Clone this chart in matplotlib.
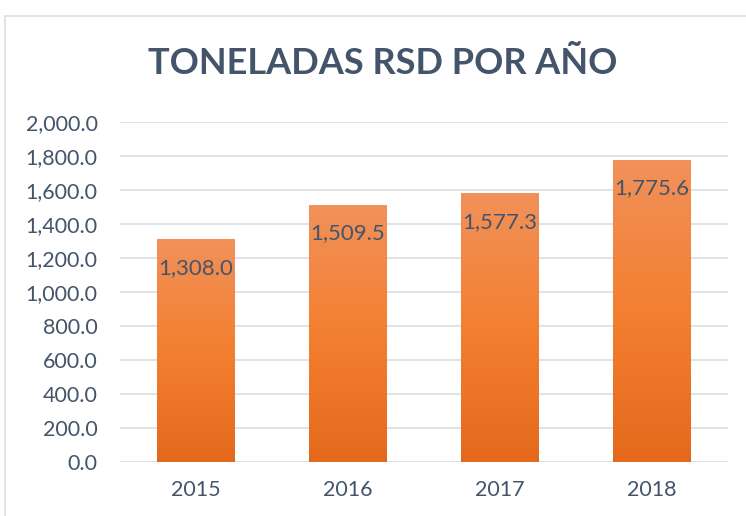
import matplotlib.pyplot as plt
import numpy as np
from matplotlib.colors import LinearSegmentedColormap
from matplotlib.patches import Rectangle

years = ['2015', '2016', '2017', '2018']
tons = [1308.0, 1509.5, 1577.3, 1775.6]
yticks = [0, 200, 400, 600, 800, 1000, 1200, 1400, 1600, 1800, 2000]

text_color = '#44546A'
font = ['Lato', 'DejaVu Sans']
cmap = LinearSegmentedColormap.from_list('orange', ['#E4691C', '#F47F30', '#F1915A'])

fig = plt.figure(figsize=(7.46, 5.16), dpi=100)
ax = fig.add_axes([120/746, 54/516, 608/746, 340/516])

# chart frame (runs off the right and bottom edges)
fig.patches.append(Rectangle((5/746, -0.1), 1.1, 1.1 - 16/516, transform=fig.transFigure,
                             fill=False, edgecolor='#D9DEE6', linewidth=1.2))

x = np.arange(len(years))
width = 0.51
grad = np.linspace(0, 1, 256).reshape(-1, 1)
for xi, v in zip(x, tons):
    ax.imshow(grad, cmap=cmap, origin='lower', aspect='auto',
              extent=(xi - width/2, xi + width/2, 0, v), vmin=0, vmax=1, zorder=2)
    ax.text(xi, v - 165, f'{v:,.1f}', ha='center', va='center',
            fontsize=16, color=text_color, family=font, zorder=3)

ax.set_xlim(-0.5, len(years) - 0.5)
ax.set_ylim(0, 2000)
ax.set_yticks(yticks)
ax.set_yticklabels([f'{t:,.1f}' for t in yticks], family=font, fontsize=15.5, color=text_color)
ax.set_xticks(x)
ax.set_xticklabels(years, family=font, fontsize=15.5, color=text_color)
ax.tick_params(length=0)
ax.tick_params(axis='x', pad=13)
ax.tick_params(axis='y', pad=16)
ax.grid(axis='y', color='#D9DEE6', linewidth=1.2, zorder=0)
ax.set_axisbelow(True)
for s in ax.spines.values():
    s.set_visible(False)

fig.text(383/746, 1 - 63/516, 'TONELADAS RSD POR AÑO', ha='center', va='center',
         fontsize=26, fontweight='bold', color=text_color, family=font)

fig.savefig('out.png', dpi=100)
